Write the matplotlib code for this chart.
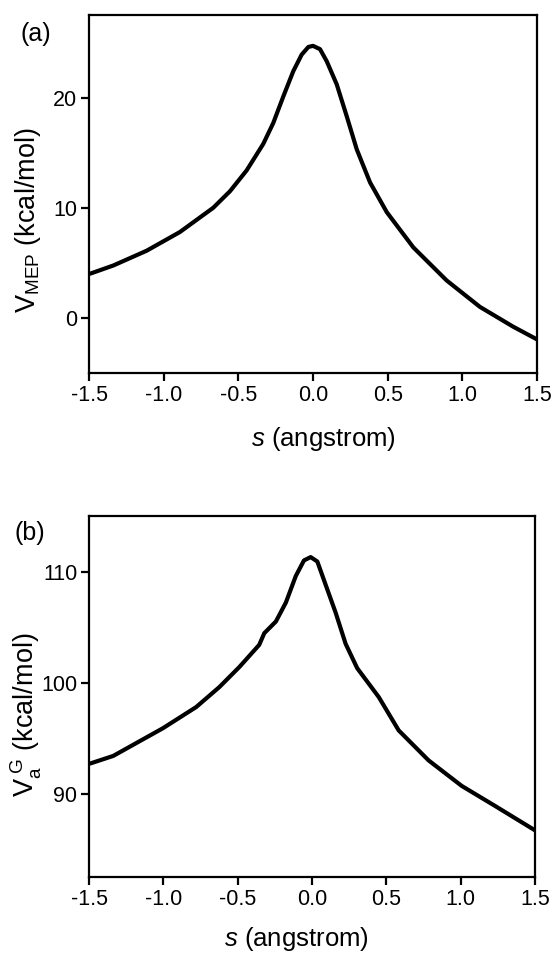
import matplotlib
matplotlib.use("Agg")
import matplotlib.pyplot as plt

plt.rcParams['font.family'] = ['Liberation Sans', 'DejaVu Sans']
plt.rcParams['mathtext.fontset'] = 'custom'
plt.rcParams['mathtext.rm'] = 'Liberation Sans'
plt.rcParams['mathtext.it'] = 'Liberation Sans:italic'

# Panel (a): V_MEP vs s
s_a = [-1.496, -1.337, -1.114, -0.891, -0.668, -0.556, -0.444, -0.333, -0.266, -0.199,
       -0.132, -0.076, -0.031, 0.0, 0.047, 0.092, 0.159, 0.226, 0.293, 0.382, 0.494,
       0.672, 0.895, 1.118, 1.341, 1.5]
v_a = [4.0, 4.76, 6.1, 7.8, 10.0, 11.5, 13.4, 15.8, 17.7, 20.1,
       22.4, 23.9, 24.6, 24.7, 24.4, 23.3, 21.2, 18.3, 15.3, 12.3, 9.6,
       6.4, 3.4, 1.0, -0.8, -1.95]

# Panel (b): V_a^G vs s
s_b = [-1.496, -1.337, -1.002, -0.779, -0.623, -0.489, -0.355, -0.321, -0.243, -0.176,
       -0.109, -0.054, -0.009, 0.036, 0.092, 0.159, 0.226, 0.304, 0.449, 0.583,
       0.784, 1.007, 1.231, 1.5]
v_b = [92.7, 93.4, 95.9, 97.8, 99.6, 101.4, 103.4, 104.45, 105.5, 107.2,
       109.6, 111.0, 111.3, 110.9, 108.8, 106.3, 103.5, 101.3, 98.7, 95.7,
       93.0, 90.7, 88.9, 86.7]

xticks = [-1.5, -1.0, -0.5, 0.0, 0.5, 1.0, 1.5]
xticklabels = ['-1.5', '-1.0', '-0.5', '0.0', '0.5', '1.0', '1.5']
yticks_a = [0, 10, 20]
yticks_b = [90, 100, 110]

W, H = 555, 957
fig = plt.figure(figsize=(W / 100, H / 100), dpi=100)
ax1 = fig.add_axes([89 / W, 1 - 373 / H, 448 / W, 358 / H])
ax2 = fig.add_axes([89 / W, 1 - 877 / H, 446 / W, 361 / H])

fs_tick = 15.5
fs_xlabel = 18.5
fs_ylabel = 19.5
fs_tag = 18

panels = [
    (ax1, s_a, v_a, yticks_a, (-5, 27.5), r'V$_{\mathrm{MEP}}$ (kcal/mol)', '(a)',
     (0.523, -0.184), (-0.136, 0.427), (36 / W, 1 - 34 / H)),
    (ax2, s_b, v_b, yticks_b, (82.5, 115), r'V$_{\mathrm{a}}^{\ \mathrm{G}}$ (kcal/mol)', '(b)',
     (0.465, -0.172), (-0.141, 0.449), (30 / W, 1 - 533 / H)),
]

for ax, s, v, yt, ylim, ylabel, tag, xlc, ylc, tagpos in panels:
    ax.plot(s, v, color='black', lw=3.0, solid_capstyle='butt', solid_joinstyle='round')
    ax.set_xlim(-1.5, 1.5)
    ax.set_ylim(*ylim)
    ax.set_xticks(xticks)
    ax.set_xticklabels(xticklabels)
    ax.set_yticks(yt)
    for sp in ax.spines.values():
        sp.set_linewidth(1.6)
    ax.tick_params(direction='out', length=5.5, width=1.6, labelsize=fs_tick, pad=3)
    ax.set_xlabel(r'$s$ (angstrom)', fontsize=fs_xlabel, va='center')
    ax.xaxis.set_label_coords(*xlc)
    ax.set_ylabel(ylabel, fontsize=fs_ylabel, va='center')
    ax.yaxis.set_label_coords(*ylc)
    fig.text(tagpos[0], tagpos[1], tag, fontsize=fs_tag, ha='center', va='center')

fig.savefig('out.png', dpi=100)
